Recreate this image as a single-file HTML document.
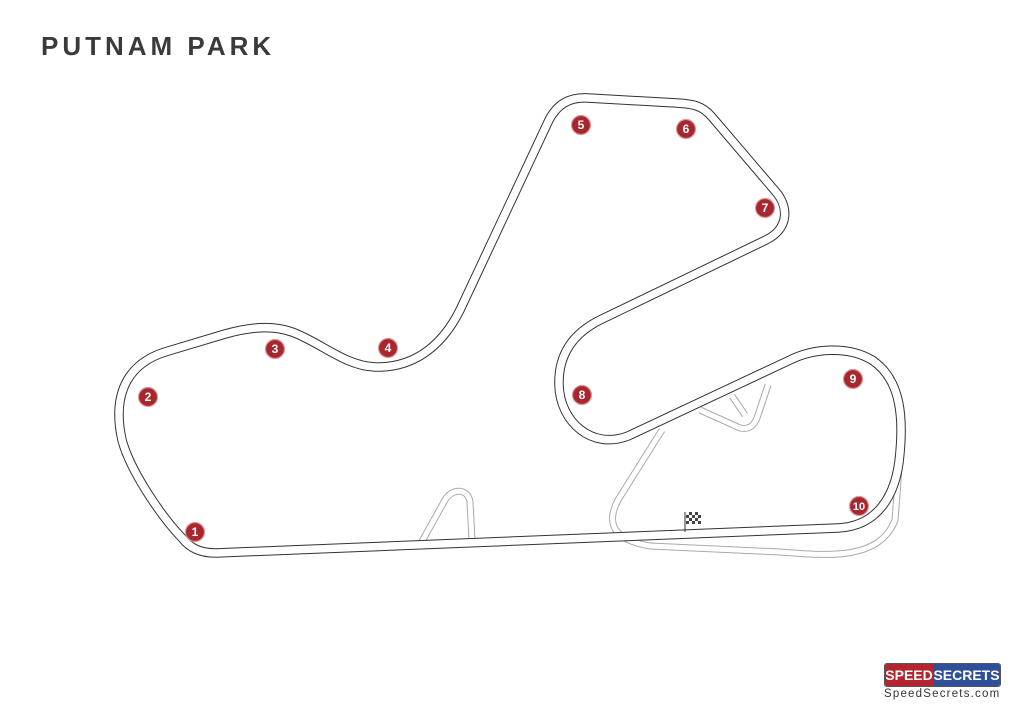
<!DOCTYPE html>
<html><head><meta charset="utf-8"><style>
body{margin:0;background:#fff;width:1024px;height:724px;overflow:hidden;position:relative;font-family:"Liberation Sans",sans-serif}
.t{position:absolute;left:41px;top:31px;font-size:26px;font-weight:bold;letter-spacing:4px;color:#3a3a3a}
</style></head><body>
<div class="t">PUTNAM PARK</div>
<svg width="1024" height="724" style="position:absolute;left:0;top:0">
<g fill="none" stroke="#aaa" stroke-width="7">
<path d="M420 545 L445 500 C452 488 468 488 470 502 L472 540"/>
<path d="M662 430 L618 500 C605 525 615 540 650 546 L780 552 C830 556 880 560 895 520 L900 455"/>
<path d="M700 410 L740 428 C750 430 755 425 758 415 L768 385"/>
<path d="M732 396 L745 415"/>
</g>
<g fill="none" stroke="#fff" stroke-width="5">
<path d="M420 545 L445 500 C452 488 468 488 470 502 L472 540"/>
<path d="M662 430 L618 500 C605 525 615 540 650 546 L780 552 C830 556 880 560 895 520 L900 455"/>
<path d="M700 410 L740 428 C750 430 755 425 758 415 L768 385"/>
<path d="M732 396 L745 415"/>
</g>
<g fill="none">
<path stroke="#333" stroke-width="9.5" d="M216 553 L838 528 C880 526 895 492 899 462 C904 420 902 380 872 360 C847 345 812 349 790 360 L628 436 C592 450 560 422 559 385 C558 350 578 331 600 320 L766 240 C790 228 788 206 776 192 L712 117 C702 105 692 104 677 103 L588 98 C568 97 557 105 549 120 L460 310 C440 350 410 368 375 367 C345 366 320 342 292 332 C272 325 250 327 225 334 L165 352 C127 364 112 395 122 440 C130 470 160 515 182 538 C190 548 200 553 216 553 Z"/>
<path stroke="#fff" stroke-width="7.5" d="M216 553 L838 528 C880 526 895 492 899 462 C904 420 902 380 872 360 C847 345 812 349 790 360 L628 436 C592 450 560 422 559 385 C558 350 578 331 600 320 L766 240 C790 228 788 206 776 192 L712 117 C702 105 692 104 677 103 L588 98 C568 97 557 105 549 120 L460 310 C440 350 410 368 375 367 C345 366 320 342 292 332 C272 325 250 327 225 334 L165 352 C127 364 112 395 122 440 C130 470 160 515 182 538 C190 548 200 553 216 553 Z"/>
</g>
<line x1="685" y1="512" x2="685" y2="532" stroke="#333" stroke-width="1"/>
<rect x="686" y="512" width="15" height="12" fill="#444"/>
<g fill="#fff"><rect x="686" y="512" width="3" height="3"/><rect x="692" y="512" width="3" height="3"/><rect x="698" y="512" width="3" height="3"/><rect x="689" y="515" width="3" height="3"/><rect x="695" y="515" width="3" height="3"/><rect x="686" y="518" width="3" height="3"/><rect x="692" y="518" width="3" height="3"/><rect x="698" y="518" width="3" height="3"/><rect x="689" y="521" width="3" height="3"/><rect x="695" y="521" width="3" height="3"/></g>
<g font-family="Liberation Sans" font-weight="bold" font-size="12" fill="#fff" text-anchor="middle">
<g fill="#a8262e" stroke="#d99" stroke-width="1.2">
<circle cx="195" cy="532" r="9.5"/><circle cx="148" cy="397" r="9.5"/><circle cx="275" cy="349" r="9.5"/><circle cx="388" cy="348" r="9.5"/><circle cx="581" cy="125" r="9.5"/><circle cx="686" cy="129" r="9.5"/><circle cx="765" cy="208" r="9.5"/><circle cx="582" cy="395" r="9.5"/><circle cx="853" cy="379" r="9.5"/><circle cx="859" cy="506" r="9.5"/>
</g>
<text x="195" y="536">1</text><text x="148" y="401">2</text><text x="275" y="353">3</text><text x="388" y="352">4</text><text x="581" y="129">5</text><text x="686" y="133">6</text><text x="765" y="212">7</text><text x="582" y="399">8</text><text x="853" y="383">9</text><text x="859" y="510" font-size="11">10</text>
</g>
</svg>
<div style="position:absolute;left:884px;top:663px;width:115px;height:22px;border:1px solid #555;border-radius:3px;overflow:hidden;display:flex;font-weight:bold;font-size:14px;color:#fff;line-height:22px">
<div style="background:#b3262f;width:48px;text-align:center">SPEED</div><div style="background:#2e4f9a;flex:1;text-align:center">SECRETS</div></div>
<div style="position:absolute;left:884px;top:688px;font-size:11.5px;letter-spacing:1.2px;color:#333">SpeedSecrets.com</div>
</body></html>
